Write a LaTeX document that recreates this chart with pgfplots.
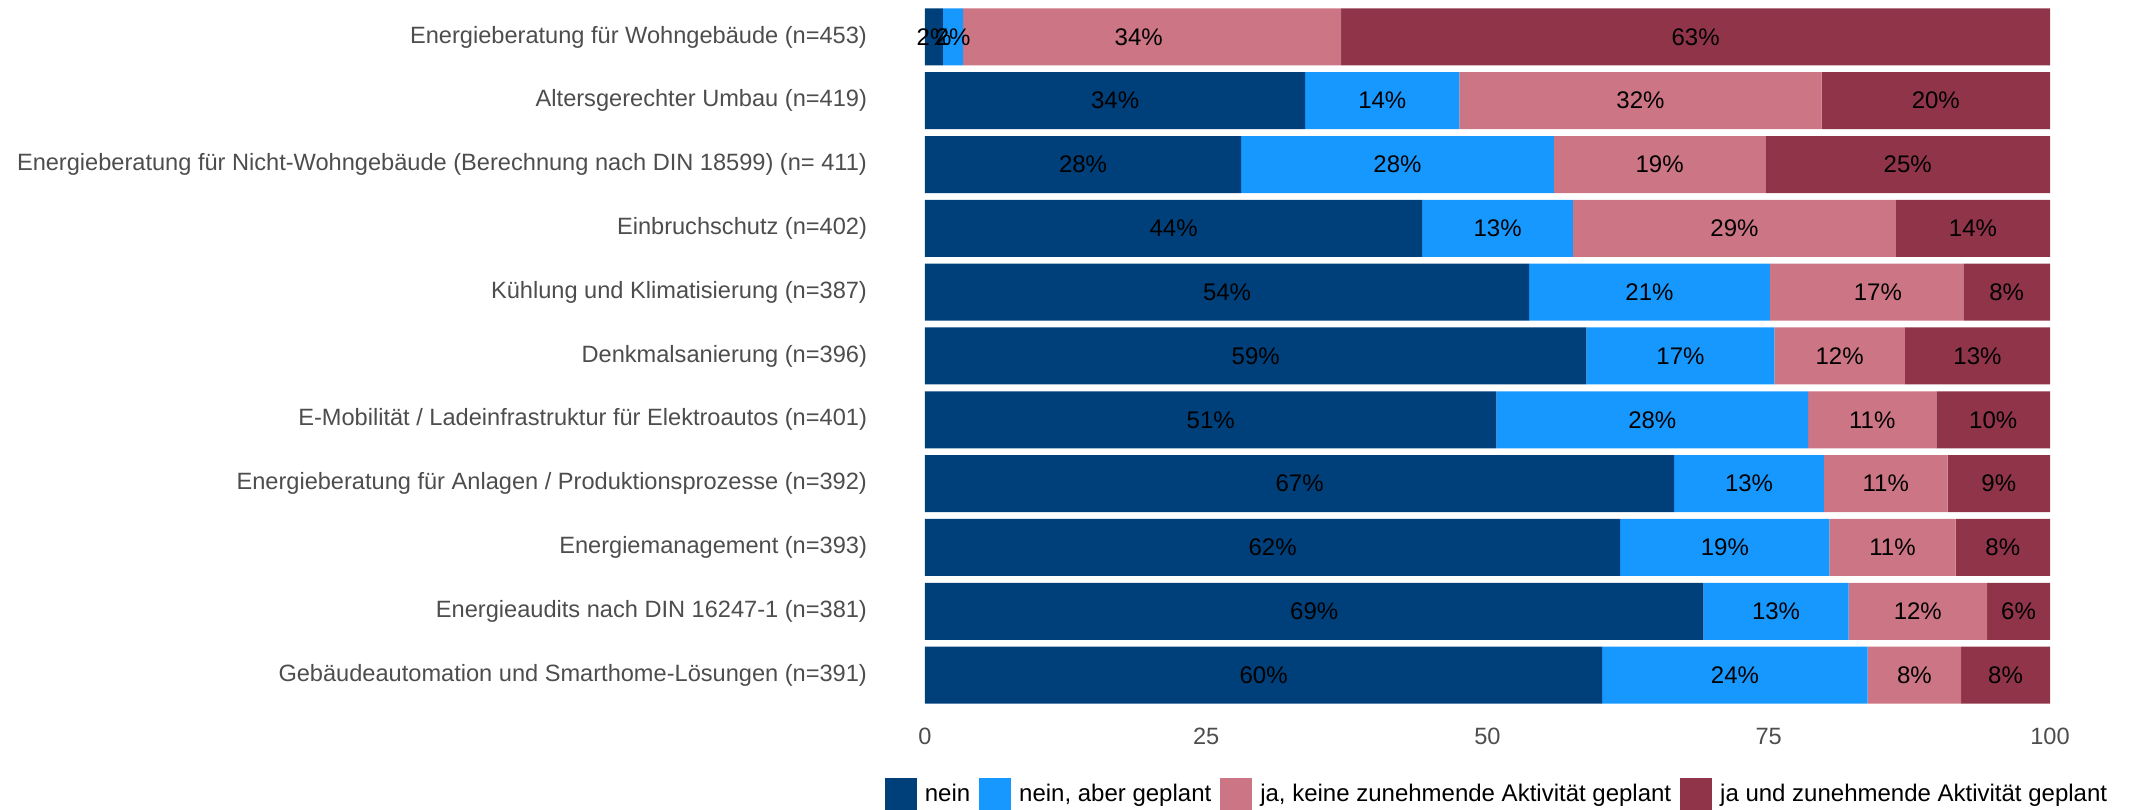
\documentclass[border=0pt]{standalone}
\usepackage{fontspec}
\setmainfont{Liberation Sans}
\usepackage{pgfplots}
\pgfplotsset{compat=1.18}
\usepackage{pgfplotstable}
\definecolor{cnein}{HTML}{00407A}
\definecolor{caber}{HTML}{1798FF}
\definecolor{ckeine}{HTML}{CC7584}
\definecolor{czun}{HTML}{8F3449}
\definecolor{tgray}{HTML}{4D4D4D}

\pgfplotstableread{
y v
11 1.6
10 33.8
9 28.1
8 44.2
7 53.7
6 58.8
5 50.8
4 66.6
3 61.8
2 69.2
1 60.2
}\tnein
\pgfplotstableread{
y v
11 1.8
10 13.7
9 27.8
8 13.4
7 21.4
6 16.7
5 27.7
4 13.3
3 18.6
2 12.9
1 23.6
}\taber
\pgfplotstableread{
y v
11 33.6
10 32.2
9 18.8
8 28.7
7 17.2
6 11.6
5 11.4
4 11.0
3 11.2
2 12.3
1 8.3
}\tkeine
\pgfplotstableread{
y v
11 63.0
10 20.3
9 25.3
8 13.7
7 7.7
6 12.9
5 10.1
4 9.1
3 8.4
2 5.6
1 7.9
}\tzun
% label positions (segment midpoints) and shown labels
\pgfplotstableread{
x y l
0.8 11 2
2.5 11 2
19.0 11 34
68.5 11 63
16.9 10 34
40.65 10 14
63.6 10 32
89.85 10 20
14.05 9 28
42.0 9 28
65.3 9 19
87.35 9 25
22.1 8 44
50.9 8 13
71.95 8 29
93.15 8 14
26.85 7 54
64.4 7 21
84.7 7 17
96.15 7 8
29.4 6 59
67.15 6 17
81.3 6 12
93.55 6 13
25.4 5 51
64.65 5 28
84.2 5 11
94.95 5 10
33.3 4 67
73.25 4 13
85.4 4 11
95.45 4 9
30.9 3 62
71.1 3 19
86.0 3 11
95.8 3 8
34.6 2 69
75.65 2 13
88.25 2 12
97.2 2 6
30.1 1 60
72.0 1 24
87.95 1 8
96.05 1 8
}\tlabels

\begin{document}
\begin{tikzpicture}[font=\fontsize{12bp}{14bp}\selectfont]
\begin{axis}[
  name=ax,
  scale only axis,
  width=562.5bp, height=351bp,
  xbar stacked,
  bar width=28.5bp,
  xmin=0, xmax=100,
  ymin=0.5, ymax=11.5,
  xtick={0,25,50,75,100},
  ytick={1,...,11},
  yticklabels={
    Gebäudeautomation und Smarthome-Lösungen (n=391),
    Energieaudits nach DIN 16247-1 (n=381),
    Energiemanagement (n=393),
    Energieberatung für Anlagen / Produktionsprozesse (n=392),
    E-Mobilität / Ladeinfrastruktur für Elektroautos (n=401),
    Denkmalsanierung (n=396),
    Kühlung und Klimatisierung (n=387),
    Einbruchschutz (n=402),
    Energieberatung für Nicht-Wohngebäude (Berechnung nach DIN 18599) (n= 411),
    Altersgerechter Umbau (n=419),
    Energieberatung für Wohngebäude (n=453)
  },
  /pgf/number format/assume math mode=true,
  axis line style={draw=none},
  major tick length=0pt,
  tick label style={text=tgray, font=\fontsize{11.8bp}{14bp}\selectfont},
  xticklabel style={yshift=-7bp},
  yticklabel style={xshift=-25.5bp},
  legend columns=4,
  legend style={
    draw=none, fill=none,
    at={([xshift=5.25bp,yshift=-43.5bp]axis description cs:0.5,0)},
    anchor=center,
    font=\fontsize{12bp}{14bp}\selectfont,
    /tikz/every even column/.append style={column sep=2.5bp},
    /tikz/every odd column/.append style={column sep=2bp},
  },
  legend cell align=left,
  legend image code/.code={\fill[#1] (0bp,-8bp) rectangle (16bp,8bp);},
]
\addplot[fill=cnein, draw=none] table[x=v, y=y] {\tnein};
\addlegendentry{nein}
\addplot[fill=caber, draw=none] table[x=v, y=y] {\taber};
\addlegendentry{nein, aber geplant}
\addplot[fill=ckeine, draw=none] table[x=v, y=y] {\tkeine};
\addlegendentry{ja, keine zunehmende Aktivität geplant}
\addplot[fill=czun, draw=none] table[x=v, y=y] {\tzun};
\addlegendentry{ja und zunehmende Aktivität geplant}
\end{axis}
\begin{axis}[
  scale only axis,
  width=562.5bp, height=351bp,
  xmin=0, xmax=100,
  ymin=0.5, ymax=11.5,
  hide axis,
]
\addplot[only marks, mark=none, nodes near coords={\pgfplotspointmeta\%},
  point meta=explicit symbolic,
  every node near coord/.style={anchor=center, text=black, font=\fontsize{12bp}{14bp}\selectfont}]
  table[x=x, y=y, meta=l] {\tlabels};
\end{axis}
\pgfresetboundingbox
\path[use as bounding box] ([xshift=-462.5bp,yshift=-51.5bp]ax.south west) rectangle ([xshift=39.5bp,yshift=2.5bp]ax.north east);
\end{tikzpicture}
\end{document}
